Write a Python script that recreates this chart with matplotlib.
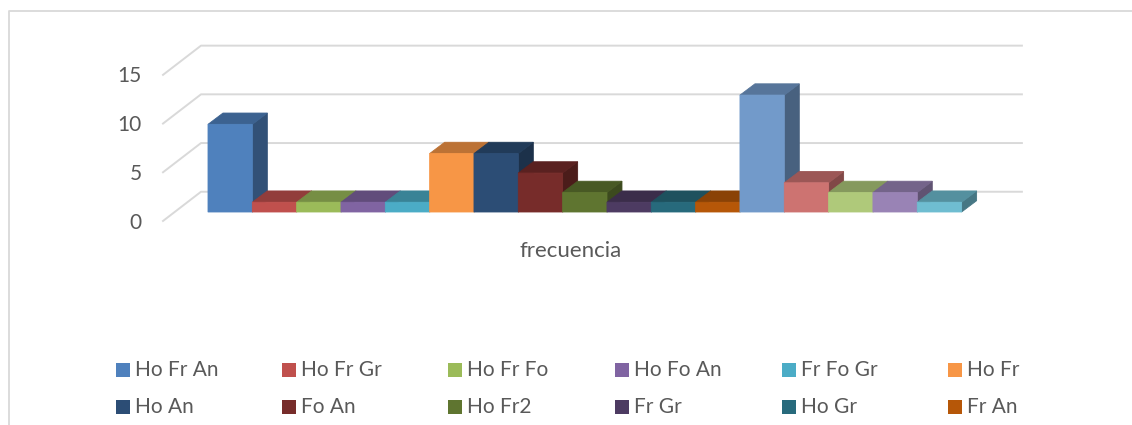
import numpy as np
import matplotlib
matplotlib.use('Agg')
import matplotlib.pyplot as plt
from matplotlib.patches import Polygon, Rectangle
from matplotlib.colors import to_rgb

plt.rcParams['font.family'] = ['Lato', 'DejaVu Sans']

W, H = 1132, 425
# bar geometry, in pixels of the figure
BAR_W = 44.33
UNIT = 9.74
X0, Y0 = 208, 212
DX, DY = 15 / BAR_W, 11.3 / UNIT

series_names = ['Ho Fr An', 'Ho Fr Gr', 'Ho Fr Fo', 'Ho Fo An', 'Fr Fo Gr', 'Ho Fr',
                'Ho An', 'Fo An', 'Ho Fr2', 'Fr Gr', 'Ho Gr', 'Fr An']
values = [9, 1, 1, 1, 1, 6, 6, 4, 2, 1, 1, 1, 12, 3, 2, 2, 1]
colors = ['#4F81BD', '#C0504D', '#9BBB59', '#8064A2', '#4BACC6', '#F79646',
          '#2C4D75', '#772C2A', '#5F7530', '#4D3B62', '#276A7C', '#B65708',
          '#729ACA', '#CD7371', '#AFC97A', '#9983B5', '#6FBDD1']
y_ticks = [0, 5, 10, 15]
TEXT = '#595959'
GRID = '#D9D9D9'


def shade(c, f):
    return tuple(v * f for v in to_rgb(c))


fig = plt.figure(figsize=(W / 100, H / 100), dpi=100, facecolor='white')

# data axes: x in bars, y in chart values
ax = fig.add_axes([0, 0, 1, 1])
ax.set_xlim(-X0 / BAR_W, (W - X0) / BAR_W)
ax.set_ylim(-(H - Y0) / UNIT, Y0 / UNIT)
ax.axis('off')

# layout axes: figure pixels from top left
lay = fig.add_axes([0, 0, 1, 1], zorder=-1)
lay.set_xlim(0, W)
lay.set_ylim(H, 0)
lay.axis('off')

# outer chart frame
lay.plot([8.5, 8.5, W], [H, 10.5, 10.5], color=GRID, lw=1.3)

# gridlines on the back wall + the diagonal on the side wall
back_x, back_y = -0.158, 2.08
front_x, front_y = -1.015, -0.92
right_x = 18.36
for v in y_ticks:
    ax.plot([front_x, back_x, right_x], [v + front_y, v + back_y, v + back_y],
            color=GRID, lw=1.4, zorder=1)
    ax.text(-1.49, v + front_y - 0.16, str(v), ha='right', va='center',
            fontsize=15, color=TEXT)

# bars, left to right so the next one covers the hidden faces
for i, (val, c) in enumerate(zip(values, colors)):
    z = 2 + i
    side = shade(c, 0.63)
    top = shade(c, 0.76)
    ax.add_patch(Polygon([(i + 1, 0), (i + 1 + DX, DY), (i + 1 + DX, val + DY), (i + 1, val)],
                         facecolor=side, edgecolor=side, lw=0.6, zorder=z))
    ax.add_patch(Polygon([(i, val), (i + DX, val + DY), (i + 1 + DX, val + DY), (i + 1, val)],
                         facecolor=top, edgecolor=top, lw=0.6, zorder=z))
    front = ax.bar(i, val, width=1, align='edge', color=c, edgecolor=c, lw=0.6, zorder=z)
    front[0].set_snap(False)

ax.text(8.17, -4.05, 'frecuencia', ha='center', va='center', fontsize=16, color=TEXT)

# legend, two rows of six
legend_x = [116, 282, 448, 615, 782, 948]
legend_y = [363, 400]
for i, (name, c) in enumerate(zip(series_names, colors)):
    lx = legend_x[i % 6]
    ly = legend_y[i // 6]
    lay.add_patch(Rectangle((lx, ly), 14, 14, facecolor=c, edgecolor='none'))
    lay.text(lx + 19, ly + 7, name, ha='left', va='center', fontsize=15, color=TEXT)

fig.savefig('out.png', dpi=100)
